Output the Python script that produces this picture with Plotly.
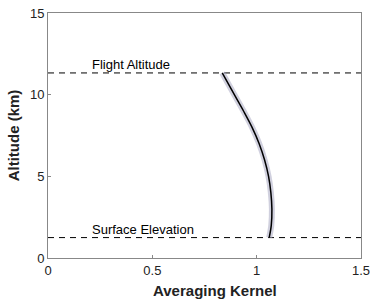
import plotly.graph_objects as go

kernel = [0.835, 0.893, 0.937, 0.978, 1.012, 1.038, 1.057, 1.068, 1.073, 1.070, 1.060]
altitude = [11.33, 10.0, 9.0, 8.0, 7.0, 6.0, 5.0, 4.0, 3.0, 2.0, 1.25]
flight_alt = 11.33
surface_elev = 1.25
x_range = [0, 1.5]
y_range = [0, 15]
x_ticks = [0, 0.5, 1, 1.5]
x_ticklabels = ["0", "0.5", "1", "1.5"]
y_ticks = [0, 5, 10, 15]

fig = go.Figure()
for yv in [flight_alt, surface_elev]:
    fig.add_trace(go.Scatter(x=x_range, y=[yv, yv], mode="lines",
                             line=dict(color="black", width=1, dash="6px,5px"),
                             showlegend=False, hoverinfo="skip"))
fig.add_trace(go.Scatter(x=kernel, y=altitude, mode="lines",
                         line=dict(color="rgba(170,170,195,0.55)", width=6, shape="spline"),
                         showlegend=False))
fig.add_trace(go.Scatter(x=kernel, y=altitude, mode="lines",
                         line=dict(color="black", width=1.5, shape="spline"),
                         showlegend=False))

fig.add_annotation(x=0.2, y=flight_alt, text="Flight Altitude", showarrow=False,
                   xanchor="left", yanchor="bottom", yshift=-1,
                   font=dict(size=13, color="black", family="Liberation Sans"))
fig.add_annotation(x=0.2, y=surface_elev, text="Surface Elevation", showarrow=False,
                   xanchor="left", yanchor="bottom", yshift=-1,
                   font=dict(size=13, color="black", family="Liberation Sans"))
fig.add_annotation(x=0.535, xref="paper", y=-0.09, yref="paper",
                   text="<b>Averaging Kernel</b>", showarrow=False,
                   xanchor="center", yanchor="top",
                   font=dict(size=15, color="#222", family="Liberation Sans"))

axis_common = dict(showgrid=False, zeroline=False, showline=True, linecolor="#888",
                   linewidth=1, mirror=True, ticks="inside", ticklen=3, tickcolor="#888",
                   automargin=False,
                   tickfont=dict(size=13, color="#222", family="Liberation Sans"))
fig.update_xaxes(range=x_range, tickvals=x_ticks, ticktext=x_ticklabels, **axis_common)
fig.update_yaxes(range=y_range, tickvals=y_ticks,
                 title=dict(text="<b>Altitude (km)</b>", standoff=6,
                            font=dict(size=15, color="#222", family="Liberation Sans")),
                 **axis_common)
fig.update_layout(width=374, height=300, margin=dict(l=48, r=13, t=13, b=42),
                  plot_bgcolor="white", paper_bgcolor="white")
fig.write_html("out.html", config=dict(displayModeBar=False),
               post_script="document.body.style.margin='0';document.body.style.overflow='hidden';")
